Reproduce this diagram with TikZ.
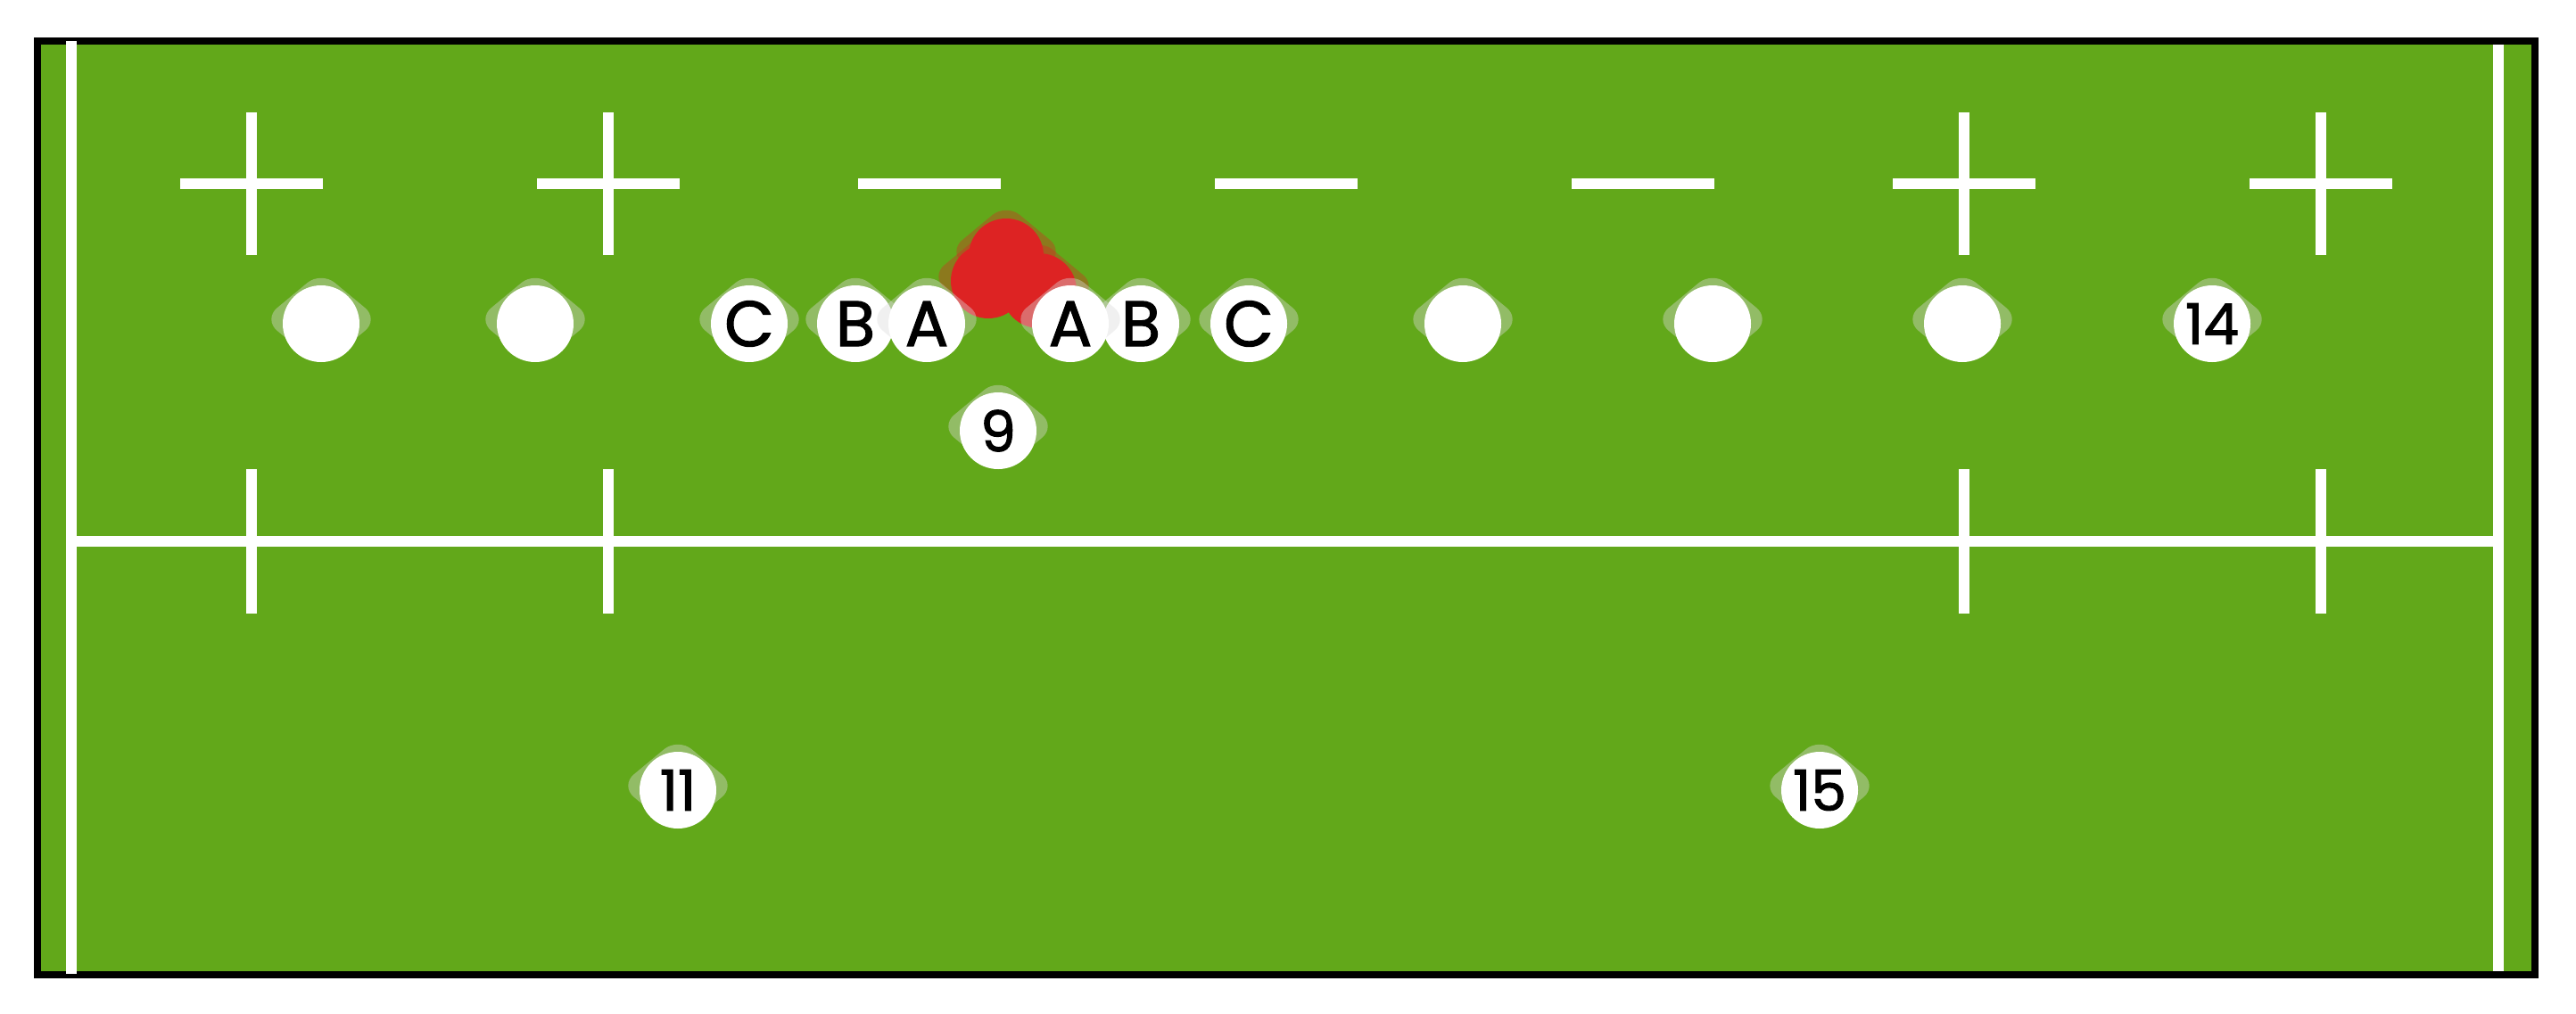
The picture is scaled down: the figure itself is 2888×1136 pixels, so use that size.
\documentclass[tikz,border=0pt]{standalone}
\usepackage{fontspec}
\setmainfont{Poppins}
\newfontfamily\plrfont{Poppins}[FakeBold=1.6]
\usepackage{tikz}
\usetikzlibrary{shapes.geometric}
\definecolor{pitchcol}{RGB}{98,168,26}
\definecolor{redcol}{RGB}{221,35,35}
\definecolor{halocol}{RGB}{218,218,218}

\begin{document}
\begin{tikzpicture}[
  x=0.1mm, y=-0.1mm,
  line/.style={white,line width=1.2mm},
  halo/.style={diamond,fill=halocol,fill opacity=.4,minimum width=13mm,
    minimum height=10.8mm,inner sep=0pt,rounded corners=2mm,yshift=0.5mm},
  redhalo/.style={halo,fill=redcol,fill opacity=.35},
  plr/.style={circle,fill=white,minimum size=8.6mm,inner sep=0pt,
    font=\plrfont\fontsize{20.5}{21}\selectfont},
  num/.style={plr,font=\plrfont\fontsize{18}{19}\selectfont},
  opp/.style={circle,fill=redcol,minimum size=8.4mm,inner sep=0pt},
]
\useasboundingbox (0,0) rectangle (2888,1136);
% --- the pitch ---
\draw[line width=0.8mm,fill=pitchcol] (42,46) rectangle (2842,1093);
\draw[line] (80,46) -- (80,1092);
\draw[line] (2801,50) -- (2801,1089);
\draw[line] (86,607) -- (2795,607);
\foreach \x in {282,682,2202,2602} {
  \draw[line] (\x-80,206) -- (\x+80,206) (\x,126) -- (\x,286);
  \draw[line] (\x,526) -- (\x,688);
}
\foreach \x in {1042,1442,1842}
  \draw[line] (\x-80,206) -- (\x+80,206);

% --- the ruck (red) ---
\node[redhalo] at (1128,287) {};
\node[redhalo] at (1108,315) {};
\node[redhalo] at (1165,326) {};
\node[opp] (r1) at (1128,287) {};
\node[opp] (r2) at (1108,315) {};
\node[opp] (r3) at (1165,326) {};

% --- attack line ---
\node[halo] at (360,363) {};  \node[plr] (w1) at (360,363) {};
\node[halo] at (600,363) {};  \node[plr] (w2) at (600,363) {};
\node[halo] at (840,363) {};  \node[plr] (lc) at (840,363) {C};
\node[halo] at (959,363) {};  \node[plr] (lb) at (959,363) {B};
\node[halo] at (1039,363) {}; \node[plr] (la) at (1039,363) {A};
\node[halo] at (1400,363) {}; \node[plr] (rc) at (1400,363) {C};
\node[halo] at (1279,363) {}; \node[plr] (rb) at (1279,363) {B};
\node[halo] at (1200,363) {}; \node[plr] (ra) at (1200,363) {A};
\node[halo] at (1640,363) {}; \node[plr] (w3) at (1640,363) {};
\node[halo] at (1920,363) {}; \node[plr] (w4) at (1920,363) {};
\node[halo] at (2200,363) {}; \node[plr] (w5) at (2200,363) {};
\node[halo] at (2480,363) {}; \node[num] (p14) at (2480,363) {14};
% scrum half and the back three
\node[halo] at (1119,483) {};  \node[num] (p9) at (1119,483) {9};
\node[halo] at (760,886) {};   \node[num] (p11) at (760,886) {11};
\node[halo] at (2040,886) {};  \node[num] (p15) at (2040,886) {15};
\end{tikzpicture}
\end{document}
